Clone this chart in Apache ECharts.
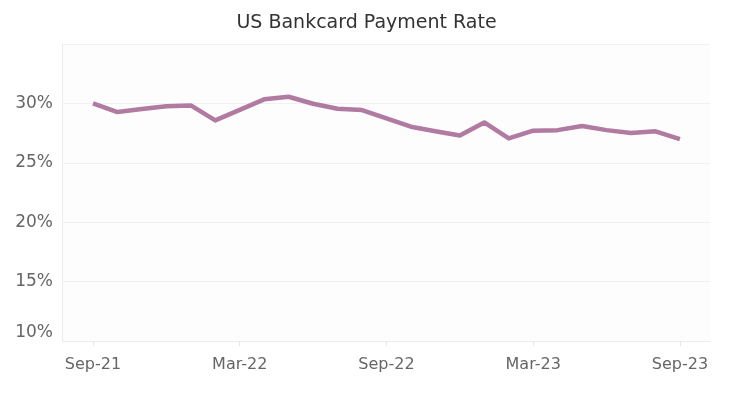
<!DOCTYPE html>
<html>
<head>
<meta charset="utf-8">
<script src="https://cdn.jsdelivr.net/npm/echarts@6/dist/echarts.min.js"></script>
<style>
html,body{margin:0;padding:0;background:#fff;}
#chart{width:733px;height:393px;}
</style>
</head>
<body>
<div id="chart"></div>
<script>
const months = ['Sep-21','Oct-21','Nov-21','Dec-21','Jan-22','Feb-22','Mar-22','Apr-22','May-22','Jun-22','Jul-22','Aug-22',
  'Sep-22','Oct-22','Nov-22','Dec-22','Jan-23','Feb-23','Mar-23','Apr-23','May-23','Jun-23','Jul-23','Aug-23','Sep-23'];
const paymentRate = [30.0,29.27,29.52,29.76,29.83,28.57,29.45,30.34,30.56,29.97,29.55,29.44,
  28.74,28.04,27.65,27.3,28.4,27.05,27.7,27.75,28.1,27.75,27.5,27.65,27.0];
const tickLabels = ['Sep-21','Mar-22','Sep-22','Mar-23','Sep-23'];
const yTicks = [10,15,20,25,30];

const tickIdx = tickLabels.map(l => months.indexOf(l));
const seriesData = paymentRate.map((v, i) => [i, v]);

const chart = echarts.init(document.getElementById('chart'));
const font = '"DejaVu Sans", sans-serif';
chart.setOption({
  backgroundColor: '#ffffff',
  animation: false,
  title: {
    text: 'US Bankcard Payment Rate',
    left: 'center', top: 9,
    textStyle: {fontFamily: font, fontSize: 19, fontWeight: 'normal', color: '#333'}
  },
  grid: {left: 62, right: 23, top: 44, bottom: 52, containLabel: false,
         show: true, backgroundColor: '#fdfdfe', borderWidth: 0},
  xAxis: {
    type: 'value',
    min: -1.267, max: 25.23,
    axisLine: {show: true, onZero: false, lineStyle: {color: '#ececec', width: 1}},
    axisTick: {show: true, length: 5, lineStyle: {color: '#e6e6e6'}, customValues: tickIdx},
    axisLabel: {
      customValues: tickIdx,
      formatter: v => months[Math.round(v)] || '',
      fontFamily: font, fontSize: 16, color: '#666', margin: 16
    },
    splitLine: {show: false}
  },
  yAxis: {
    type: 'value',
    min: 10, max: 35, interval: 5,
    axisLine: {show: true, onZero: false, lineStyle: {color: '#ececec'}},
    axisTick: {show: false},
    axisLabel: {
      fontFamily: font, fontSize: 17, color: '#666', margin: 9,
      formatter: v => yTicks.indexOf(v) >= 0 ? v + '%' : '',
      verticalAlignMinLabel: 'bottom'
    },
    splitLine: {show: true, lineStyle: {color: '#f1f1f1'}},
  },
  series: [{
    type: 'line',
    data: seriesData,
    symbol: 'none',
    lineStyle: {color: '#b07aa1', width: 4.5, join: 'round'},
    itemStyle: {color: '#b07aa1'}
  }]
});
</script>
</body>
</html>
